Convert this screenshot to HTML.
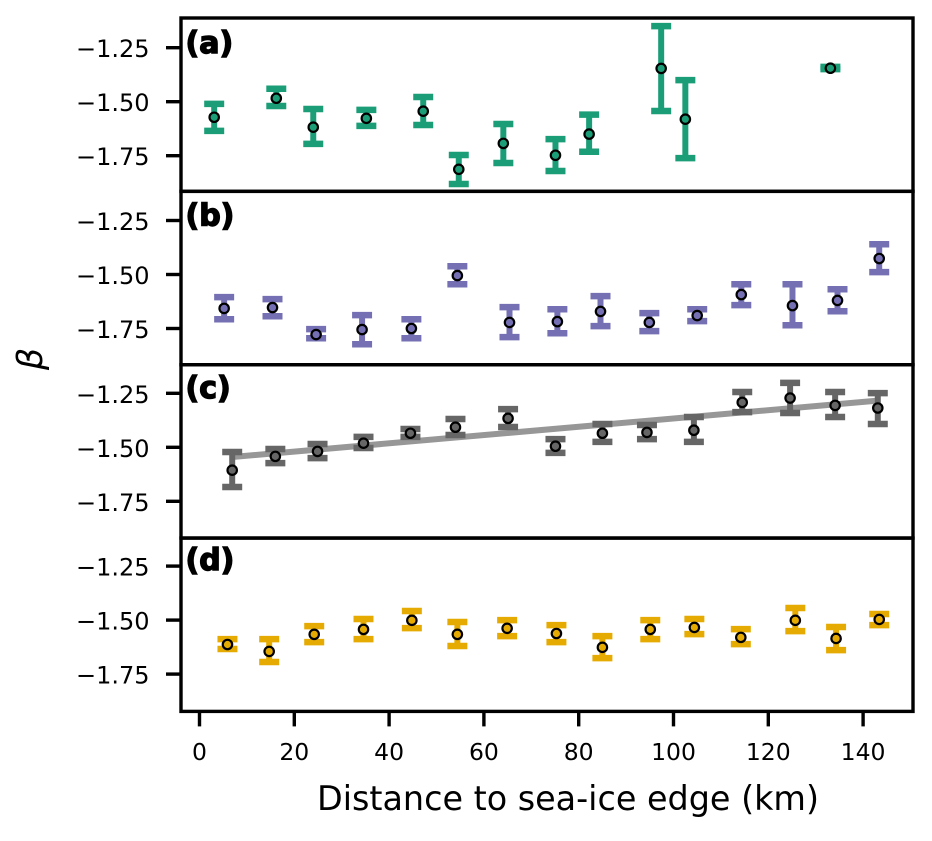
<!DOCTYPE html>
<html lang="en">
<head>
<meta charset="utf-8">
<title>Beta versus distance to sea-ice edge</title>
<style>
  html, body { margin: 0; padding: 0; background: #fff; }
  svg { display: block; }
  text { font-family: "DejaVu Sans", "Liberation Sans", sans-serif; fill: #000; }
</style>
</head>
<body>
<svg id="chart" xmlns="http://www.w3.org/2000/svg" width="932" height="841" viewBox="0 0 932 841"></svg>
<script>
const xTickValues = [0, 20, 40, 60, 80, 100, 120, 140];
const xTickLabels = ['0', '20', '40', '60', '80', '100', '120', '140'];
const yTickValues = [-1.25, -1.5, -1.75];
const yTickLabels = ['\u22121.25', '\u22121.50', '\u22121.75'];

const distanceA = [3.1, 16.2, 24, 35.2, 47.2, 54.7, 64.1, 75.1, 82.2, 97.4, 102.5, 133.1];
const betaA = [-1.572, -1.484, -1.618, -1.577, -1.544, -1.813, -1.693, -1.748, -1.650, -1.346, -1.581, -1.345];
const upperA = [-1.510, -1.440, -1.534, -1.538, -1.478, -1.747, -1.603, -1.673, -1.560, -1.150, -1.400, -1.339];
const lowerA = [-1.635, -1.520, -1.695, -1.612, -1.608, -1.881, -1.784, -1.821, -1.732, -1.543, -1.761, -1.349];

const distanceB = [5.2, 15.4, 24.6, 34.3, 44.7, 54.4, 65.4, 75.5, 84.6, 94.9, 105, 114.3, 125.1, 134.6, 143.4];
const betaB = [-1.657, -1.653, -1.778, -1.755, -1.750, -1.505, -1.722, -1.718, -1.671, -1.722, -1.690, -1.593, -1.644, -1.620, -1.426];
const upperB = [-1.605, -1.614, -1.753, -1.688, -1.707, -1.462, -1.651, -1.661, -1.600, -1.679, -1.661, -1.545, -1.545, -1.568, -1.360];
const lowerB = [-1.707, -1.693, -1.795, -1.823, -1.795, -1.545, -1.790, -1.772, -1.739, -1.762, -1.716, -1.642, -1.735, -1.670, -1.489];

const distanceC = [6.9, 16, 24.9, 34.6, 44.5, 54, 65.1, 75.1, 85, 94.4, 104.3, 114.5, 124.6, 134.1, 143.1];
const betaC = [-1.606, -1.542, -1.519, -1.481, -1.435, -1.407, -1.366, -1.495, -1.435, -1.431, -1.421, -1.292, -1.272, -1.306, -1.318];
const upperC = [-1.522, -1.508, -1.485, -1.452, -1.415, -1.369, -1.323, -1.462, -1.392, -1.397, -1.360, -1.244, -1.202, -1.244, -1.249];
const lowerC = [-1.684, -1.573, -1.550, -1.503, -1.452, -1.443, -1.406, -1.526, -1.475, -1.462, -1.475, -1.337, -1.341, -1.360, -1.392];
const fitDistanceC = [6.9, 143.1];
const fitBetaC = [-1.545, -1.284];

const distanceD = [5.9, 14.7, 24.2, 34.6, 44.8, 54.4, 64.9, 75.3, 85, 95.1, 104.4, 114.2, 125.7, 134.3, 143.4];
const betaD = [-1.613, -1.645, -1.566, -1.543, -1.501, -1.566, -1.538, -1.562, -1.626, -1.543, -1.534, -1.580, -1.501, -1.585, -1.497];
const upperD = [-1.588, -1.588, -1.528, -1.495, -1.458, -1.509, -1.500, -1.523, -1.574, -1.500, -1.495, -1.542, -1.444, -1.532, -1.472];
const lowerD = [-1.634, -1.694, -1.602, -1.588, -1.537, -1.620, -1.574, -1.602, -1.676, -1.588, -1.565, -1.611, -1.551, -1.639, -1.523];

const panelLetters = ['(a)', '(b)', '(c)', '(d)'];
const panelColors = ['#1b9e77', '#7570b3', '#666666', '#e6ab02'];
const panelDistances = [distanceA, distanceB, distanceC, distanceD];
const panelBetas = [betaA, betaB, betaC, betaD];
const panelUppers = [upperA, upperB, upperC, upperD];
const panelLowers = [lowerA, lowerB, lowerC, lowerD];

const SVG_NS = 'http://www.w3.org/2000/svg';
const chart = document.getElementById('chart');
const plotLeft = 181;
const plotRight = 913;
const frameTop = 18;
const frameStep = 173.35;

function xScale(distance) {
  return 199.5 + distance * 4.74;
}
function yScale(panelIndex, beta) {
  return 47.7 + panelIndex * 172.8 + (-1.25 - beta) * 216;
}
function shape(tag, attrs, parent) {
  const el = document.createElementNS(SVG_NS, tag);
  for (const key in attrs) el.setAttribute(key, attrs[key]);
  parent.appendChild(el);
  return el;
}

panelLetters.forEach(function (letter, p) {
  const panelKey = letter.charAt(1);
  const top = frameTop + p * frameStep;
  const color = panelColors[p];

  const group = shape('g', {}, chart);
  
  

  if (p === 2) {
    const fit = shape('line', {
      x1: xScale(fitDistanceC[0]), y1: yScale(p, fitBetaC[0]),
      x2: xScale(fitDistanceC[1]), y2: yScale(p, fitBetaC[1]),
      stroke: '#979797', 'stroke-width': 6
    }, group);
    
    
  }

  panelDistances[p].forEach(function (distance, i) {
    const cx = xScale(distance);
    const yHigh = yScale(p, panelUppers[p][i]);
    const yLow = yScale(p, panelLowers[p][i]);
    const point = shape('g', {}, group);
    
    
    shape('line', { x1: cx, x2: cx, y1: yHigh, y2: yLow, stroke: color, 'stroke-width': 6 }, point);
    shape('line', { x1: cx - 10, x2: cx + 10, y1: yHigh, y2: yHigh, stroke: color, 'stroke-width': 6.5 }, point);
    shape('line', { x1: cx - 10, x2: cx + 10, y1: yLow, y2: yLow, stroke: color, 'stroke-width': 6.5 }, point);
    shape('circle', { cx: cx, cy: yScale(p, panelBetas[p][i]), r: 4.7, fill: color, stroke: '#000', 'stroke-width': 2.2 }, point);
  });

  const frame = shape('rect', {
    x: plotLeft, y: top, width: plotRight - plotLeft, height: frameStep,
    fill: 'none', stroke: '#000', 'stroke-width': 3.4
  }, group);
  
  

  yTickValues.forEach(function (value, t) {
    const ty = yScale(p, value);
    const tick = shape('line', { x1: plotLeft - 15, x2: plotLeft, y1: ty, y2: ty, stroke: '#000', 'stroke-width': 3.4 }, group);
    
    
    const label = shape('text', { x: 149.5, y: ty + 9.5, 'text-anchor': 'end', 'font-size': 24 }, group);
    
    
    label.textContent = yTickLabels[t];
  });

  const tag = shape('text', {
    x: 185.5, y: 53 + p * 172.4, 'font-size': 30, 'font-weight': 'bold',
    stroke: '#000', 'stroke-width': 1.4
  }, group);
  
  
  tag.textContent = letter;
});

const bottomY = frameTop + 4 * frameStep;
xTickValues.forEach(function (value, t) {
  const tx = xScale(value);
  const tick = shape('line', { x1: tx, x2: tx, y1: bottomY, y2: bottomY + 15, stroke: '#000', 'stroke-width': 3.4 }, chart);
  
  
  const label = shape('text', { x: tx, y: 760, 'text-anchor': 'middle', 'font-size': 23.5 }, chart);
  
  
  label.textContent = xTickLabels[t];
});

const xTitle = shape('text', { x: 568, y: 810, 'text-anchor': 'middle', 'font-size': 33.4 }, chart);


xTitle.textContent = 'Distance to sea-ice edge (km)';

const yTitle = shape('text', {
  x: 0, y: 0, transform: 'translate(42 359) rotate(-90)', 'text-anchor': 'middle',
  'font-size': 35, 'font-style': 'italic'
}, chart);


yTitle.textContent = '\u03B2';
</script>
</body>
</html>
